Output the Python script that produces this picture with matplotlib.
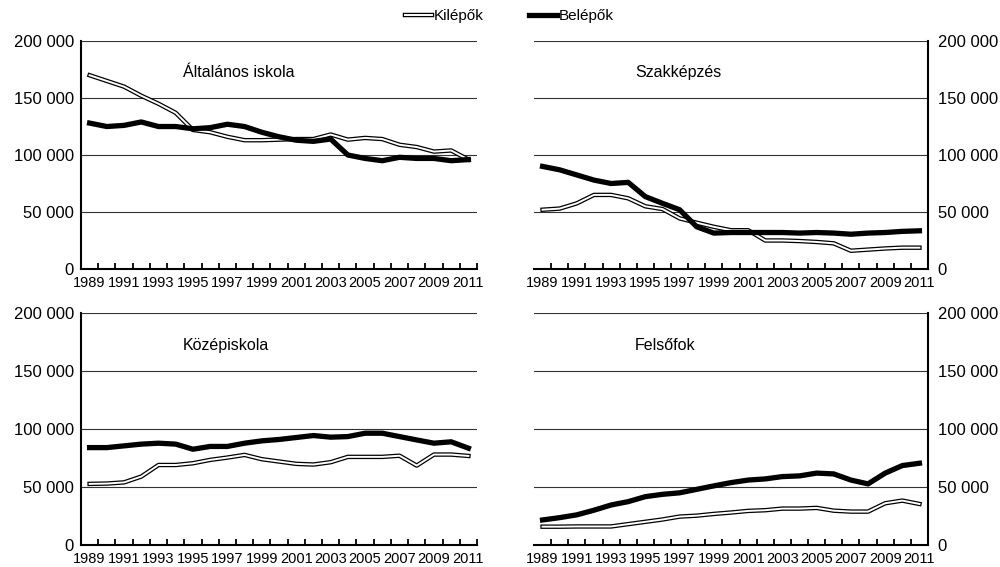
import matplotlib
matplotlib.use("Agg")
import matplotlib.pyplot as plt
import matplotlib.patheffects as pe
from matplotlib.lines import Line2D
from matplotlib.ticker import FuncFormatter, MultipleLocator

plt.rcParams['font.family'] = ['Liberation Sans', 'DejaVu Sans']

years = list(range(1989, 2012))

# Általános iskola
alt_ki = [170000, 165000, 160000, 152000, 145000, 137000, 122000, 120000, 116000, 113000, 113000, 113500,
          114000, 114000, 118000, 113500, 115000, 114000, 109000, 107000, 103000, 104000, 96000]
alt_be = [128000, 125000, 126000, 129000, 125000, 125000, 123000, 124000, 127000, 125000, 120000, 116000,
          113000, 112000, 114000, 100000, 97000, 95000, 98000, 97000, 97000, 95000, 96000]

# Szakképzés
szak_ki = [52000, 53000, 57600, 65000, 65000, 62000, 55000, 52600, 44400, 40600, 37000, 34000,
           34000, 25000, 25000, 24500, 23700, 22500, 16000, 17000, 18000, 18700, 18700]
szak_be = [90000, 87000, 82500, 78000, 75000, 76000, 63500, 57600, 52000, 37000, 31500, 32000,
           32000, 32000, 32000, 31500, 32000, 31500, 30500, 31500, 32000, 33000, 33500]

# Középiskola
kozep_ki = [52700, 53000, 54000, 59000, 69000, 69000, 70500, 73400, 75400, 77700, 74000, 72000,
            70000, 69400, 71400, 76000, 76000, 76000, 77000, 68500, 78000, 78000, 76800]
kozep_be = [84000, 84000, 85500, 87000, 87800, 87000, 82600, 85000, 85000, 87800, 89800, 91000,
            92700, 94400, 93000, 93500, 96400, 96400, 93500, 90600, 87800, 89000, 83500]

# Felsőfok
felso_ki = [15800, 15800, 16000, 16000, 16000, 18000, 20000, 22000, 24500, 25300, 26800, 28000,
            29400, 30000, 31400, 31400, 32000, 29600, 28800, 28800, 36000, 38300, 35400]
felso_be = [21600, 23600, 26000, 30000, 34500, 37400, 41700, 43700, 45000, 48000, 51000, 53800,
            56000, 57000, 59000, 59600, 62000, 61300, 56000, 52700, 62000, 68500, 70500]

panels = [
    ("Általános iskola", alt_ki, alt_be, [0.081, 0.5256, 0.396, 0.402], 'left'),
    ("Szakképzés", szak_ki, szak_be, [0.534, 0.5256, 0.394, 0.402], 'right'),
    ("Középiskola", kozep_ki, kozep_be, [0.081, 0.0388, 0.396, 0.409], 'left'),
    ("Felsőfok", felso_ki, felso_be, [0.534, 0.0388, 0.394, 0.409], 'right'),
]

FS = 11
hollow = [pe.Stroke(linewidth=3.2, foreground='black'), pe.Normal()]


def fmt(v, pos):
    return f"{v:,.0f}".replace(",", " ")


fig = plt.figure(figsize=(10, 5.67), dpi=100)

for title, ki, be, rect, side in panels:
    ax = fig.add_axes(rect)
    x = list(range(len(years)))
    ax.plot(x, ki, color='white', linewidth=1.4, path_effects=hollow, zorder=3)
    ax.plot(x, be, color='black', linewidth=3.8, zorder=4, solid_joinstyle='round')

    ax.set_xlim(-0.5, len(years) - 0.5)
    ax.set_ylim(0, 200000)
    ax.yaxis.set_major_locator(MultipleLocator(50000))
    ax.yaxis.set_major_formatter(FuncFormatter(fmt))
    ax.yaxis.grid(True, color='#333333', linewidth=0.8)
    ax.set_axisbelow(True)

    ax.set_xticks(x[::2])
    ax.set_xticklabels([str(y) for y in years[::2]])
    ax.set_xticks([i + 0.5 for i in x], minor=True)
    ax.tick_params(axis='x', which='major', length=0, pad=5, labelsize=10.5)
    ax.tick_params(axis='x', which='minor', direction='in', length=4, width=1.3)

    ax.spines['top'].set_visible(False)
    ax.spines['bottom'].set_linewidth(1.5)
    if side == 'left':
        ax.spines['right'].set_visible(False)
        ax.spines['left'].set_linewidth(1.5)
        ax.tick_params(axis='y', length=0, pad=5, labelsize=12)
    else:
        ax.spines['left'].set_visible(False)
        ax.spines['right'].set_linewidth(1.5)
        ax.yaxis.tick_right()
        ax.tick_params(axis='y', length=0, pad=7, labelsize=12)

    ax.text(5.4, 172000, title, fontsize=11.5, ha='left', va='center')

handles = [
    Line2D([], [], color='white', linewidth=1.4, path_effects=hollow, label='Kilépők'),
    Line2D([], [], color='black', linewidth=3.8, label='Belépők'),
]
fig.legend(handles=handles, loc='center', bbox_to_anchor=(0.509, 0.972), ncol=2, frameon=False,
           fontsize=FS, handlelength=1.8, handletextpad=0.1, columnspacing=3.0)

fig.savefig("out.png", dpi=100)
